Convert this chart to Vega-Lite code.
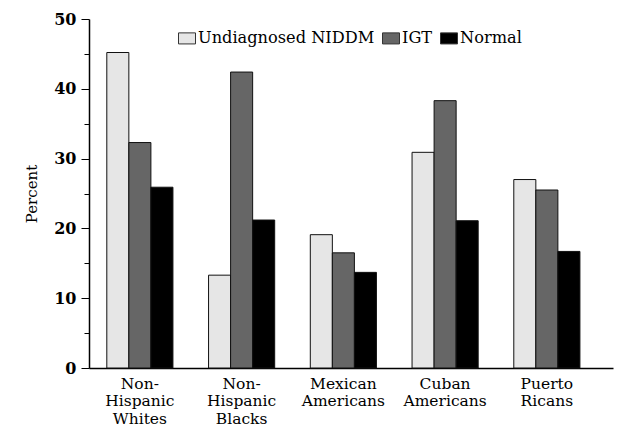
{
  "$schema": "https://vega.github.io/schema/vega-lite/v6.json",
  "autosize": {"type": "none"},
  "width": 524,
  "height": 349,
  "padding": {"left": 89, "top": 19, "right": 5, "bottom": 63},
  "background": "white",
  "data": {"values": [
    {"group": "Non-|Hispanic|Whites", "cat": "Undiagnosed NIDDM", "value": 45.2},
    {"group": "Non-|Hispanic|Whites", "cat": "IGT", "value": 32.3},
    {"group": "Non-|Hispanic|Whites", "cat": "Normal", "value": 25.9},
    {"group": "Non-|Hispanic|Blacks", "cat": "Undiagnosed NIDDM", "value": 13.3},
    {"group": "Non-|Hispanic|Blacks", "cat": "IGT", "value": 42.4},
    {"group": "Non-|Hispanic|Blacks", "cat": "Normal", "value": 21.2},
    {"group": "Mexican|Americans", "cat": "Undiagnosed NIDDM", "value": 19.1},
    {"group": "Mexican|Americans", "cat": "IGT", "value": 16.5},
    {"group": "Mexican|Americans", "cat": "Normal", "value": 13.7},
    {"group": "Cuban|Americans", "cat": "Undiagnosed NIDDM", "value": 30.9},
    {"group": "Cuban|Americans", "cat": "IGT", "value": 38.3},
    {"group": "Cuban|Americans", "cat": "Normal", "value": 21.1},
    {"group": "Puerto|Ricans", "cat": "Undiagnosed NIDDM", "value": 27.0},
    {"group": "Puerto|Ricans", "cat": "IGT", "value": 25.5},
    {"group": "Puerto|Ricans", "cat": "Normal", "value": 16.7}
  ]},
  "mark": {"type": "bar", "stroke": "#111", "strokeWidth": 1},
  "encoding": {
    "x": {
      "field": "group", "type": "nominal", "sort": null,
      "scale": {"paddingInner": 0.35, "paddingOuter": 0.25, "align": 0.35},
      "axis": {
        "title": null, "labelAngle": 0, "ticks": false,
        "labelExpr": "split(datum.label, '|')",
        "labelFont": "DejaVu Serif", "labelFontSize": 15.5, "labelColor": "black",
        "labelLineHeight": 17.5, "labelPadding": 8,
        "domainColor": "black", "domainWidth": 1.5
      }
    },
    "xOffset": {"field": "cat", "type": "nominal", "sort": ["Undiagnosed NIDDM", "IGT", "Normal"]},
    "y": {
      "field": "value", "type": "quantitative",
      "scale": {"domain": [0, 50], "nice": false},
      "axis": {
        "title": "Percent", "titleFont": "DejaVu Serif", "titleFontSize": 15,
        "titleFontWeight": "normal", "titleColor": "black", "titlePadding": 14,
        "values": [0, 5, 10, 15, 20, 25, 30, 35, 40, 45, 50],
        "labelExpr": "datum.value % 10 === 0 ? datum.label : ''",
        "tickSize": {"condition": {"test": "datum.value % 10 === 0", "value": 8}, "value": 5},
        "tickColor": "black", "domainColor": "black", "domainWidth": 1.5,
        "labelFont": "DejaVu Serif", "labelFontSize": 16, "labelFontWeight": "bold",
        "labelColor": "black", "labelPadding": 5, "grid": false
      }
    },
    "fill": {
      "field": "cat", "type": "nominal",
      "sort": ["Undiagnosed NIDDM", "IGT", "Normal"],
      "scale": {"domain": ["Undiagnosed NIDDM", "IGT", "Normal"], "range": ["#e6e6e6", "#666666", "#000000"]},
      "legend": {
        "title": null, "orient": "none", "direction": "horizontal",
        "legendX": 89, "legendY": 10,
        "symbolType": "M-1,-0.65H1V0.65H-1Z", "symbolSize": 289, "symbolStrokeColor": "#333", "symbolStrokeWidth": 1,
        "labelFont": "DejaVu Serif", "labelFontSize": 16.2, "labelColor": "black",
        "labelLimit": 0, "labelOffset": 2, "columnPadding": 5
      }
    }
  },
  "config": {"view": {"stroke": null}}
}
